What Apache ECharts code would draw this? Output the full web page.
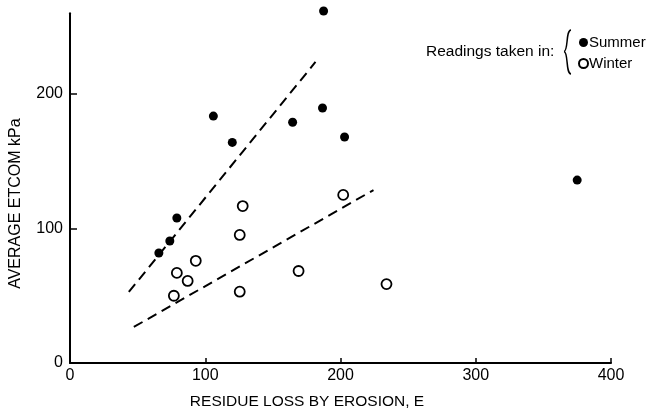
<!DOCTYPE html>
<html>
<head>
<meta charset="utf-8">
<script src="https://cdn.jsdelivr.net/npm/echarts@6/dist/echarts.min.js"></script>
<style>
html,body{margin:0;padding:0;background:#fff;}
#chart{width:651px;height:417px;}
</style>
</head>
<body>
<div id="chart"></div>
<script>
// Data
var summerX = [65.7, 73.8, 79, 106, 120, 164.6, 186.7, 187.5, 203, 375];
var summerY = [81.8, 90.7, 107.8, 183.6, 164, 179, 189.6, 261.7, 168, 136];
var winterX = [76.8, 79, 87, 93, 125.5, 125.5, 127.7, 169, 202, 234];
var winterY = [50, 67, 61, 76, 53, 95.2, 116.7, 68.4, 125, 58.7];
var summerFitX = [43.5, 181.5];
var summerFitY = [52.8, 223.8];
var winterFitX = [47.2, 224.4];
var winterFitY = [26.8, 128.6];
var xTicks = [0, 100, 200, 300, 400];
var yTicks = [0, 100, 200];
var seriesNames = ['Summer', 'Winter'];
var xTitle = 'RESIDUE LOSS BY EROSION, E';
var yTitle = 'AVERAGE ETCOM kPa';
var legendTitle = 'Readings taken in:';

function zip(xs, ys) { return xs.map(function (x, i) { return [x, ys[i]]; }); }

var font = 'Liberation Sans, Arial, sans-serif';
var chart = echarts.init(document.getElementById('chart'), null, {renderer: 'canvas'});
chart.setOption({
  animation: false,
  backgroundColor: '#fff',
  grid: {left: 69, right: 40, top: 13.3, bottom: 54, containLabel: false},
  xAxis: {
    type: 'value', min: 0, max: 400, interval: 100,
    name: xTitle, nameLocation: 'middle', nameGap: 31,
    nameTextStyle: {fontFamily: font, fontSize: 15.5, color: '#000', padding: [0, 67, 0, 0]},
    axisLine: {show: true, lineStyle: {color: '#000', width: 2}},
    axisTick: {show: true, inside: true, length: 5, lineStyle: {color: '#000', width: 1.5}, customValues: xTicks},
    axisLabel: {fontFamily: font, fontSize: 16, color: '#000', margin: 5, customValues: xTicks},
    splitLine: {show: false}
  },
  yAxis: {
    type: 'value', min: 0, max: 260, interval: 100,
    name: yTitle, nameLocation: 'middle', nameGap: 46,
    nameTextStyle: {fontFamily: font, fontSize: 16, color: '#000', padding: [0, 31, 0, 0]},
    axisLine: {show: true, lineStyle: {color: '#000', width: 2}},
    axisTick: {show: true, inside: true, length: 7, lineStyle: {color: '#000', width: 1.5}, customValues: yTicks},
    axisLabel: {fontFamily: font, fontSize: 16, color: '#000', margin: 7, customValues: yTicks},
    splitLine: {show: false}
  },
  legend: {
    data: seriesNames,
    orient: 'vertical', left: 573, top: 30, itemGap: 6,
    itemWidth: 9, itemHeight: 9, icon: 'circle',
    textStyle: {fontFamily: font, fontSize: 15, color: '#000', padding: [0, 0, 0, -4]},
    selectedMode: false
  },
  graphic: [
    {type: 'text', left: 426, top: 44, style: {text: legendTitle, font: '15.5px ' + font, fill: '#000'}},
    {type: 'bezierCurve', shape: {x1: 571, y1: 30, cpx1: 565.5, cpy1: 30.5, cpx2: 568.5, cpy2: 51, x2: 564, y2: 51.5},
     style: {fill: 'none', stroke: '#000', lineWidth: 1.5}},
    {type: 'bezierCurve', shape: {x1: 564, y1: 51.5, cpx1: 568.5, cpy1: 52, cpx2: 565.5, cpy2: 73.5, x2: 571, y2: 74},
     style: {fill: 'none', stroke: '#000', lineWidth: 1.5}}
  ],
  series: [
    {name: seriesNames[0], type: 'scatter', data: zip(summerX, summerY), symbol: 'circle', symbolSize: 9, clip: false,
     itemStyle: {color: '#000', opacity: 1}},
    {name: seriesNames[1], type: 'scatter', data: zip(winterX, winterY), symbol: 'circle', symbolSize: 10, clip: false,
     itemStyle: {color: '#fff', borderColor: '#000', borderWidth: 1.8, opacity: 1}},
    {name: 'summerFit', type: 'line', data: zip(summerFitX, summerFitY), showSymbol: false, symbol: 'none',
     lineStyle: {color: '#000', width: 2, type: [10, 6]}, z: 1},
    {name: 'winterFit', type: 'line', data: zip(winterFitX, winterFitY), showSymbol: false, symbol: 'none',
     lineStyle: {color: '#000', width: 2, type: [10, 6]}, z: 1}
  ]
});
</script>
</body>
</html>
